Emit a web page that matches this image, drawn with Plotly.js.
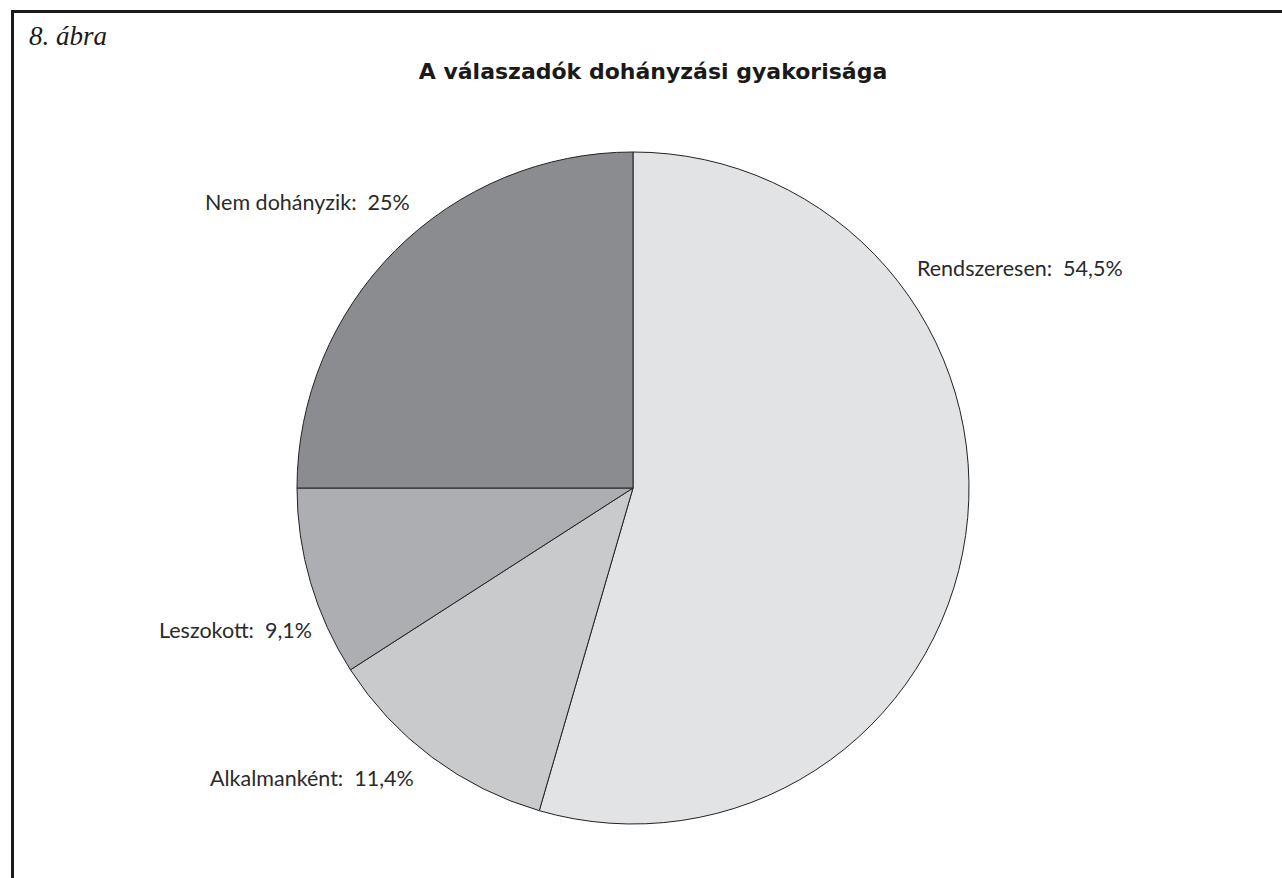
<!DOCTYPE html>
<html>
<head>
<meta charset="utf-8">
<script src="https://cdn.plot.ly/plotly-3.0.1.min.js"></script>
<style>
  html, body { margin: 0; padding: 0; background: #ffffff; }
  #chart { width: 1282px; height: 878px; }
</style>
</head>
<body>
<div id="chart"></div>
<script>
// Data
const categories = ["Rendszeresen", "Alkalmanként", "Leszokott", "Nem dohányzik"];
const values = [54.5, 11.4, 9.1, 25];
const sliceColors = ["#e2e3e5", "#c9cacc", "#adaeb1", "#8b8c8f"];

// Label placement (paper coordinates, as in the reference)
const labelX = [1020 / 1282, 312 / 1282, 235 / 1282, 307 / 1282];
const labelY = [1 - 268 / 878, 1 - 778 / 878, 1 - 630 / 878, 1 - 202 / 878];

const W = 1282, H = 878;
const cx = 633, cy = 488, R = 336;

function fmt(v) { return String(v).replace('.', ',') + '%'; }

const labelFont = { family: "Lato, 'Open Sans', sans-serif", size: 21.5, color: "#2a2a2a" };

const annotations = categories.map((c, i) => ({
  text: c + ':\u00a0 ' + fmt(values[i]),
  x: labelX[i], y: labelY[i], xref: 'paper', yref: 'paper',
  xanchor: 'center', yanchor: 'middle', showarrow: false,
  font: labelFont
}));

annotations.push({
  text: '<i>8. ábra</i>',
  x: 27 / W, y: 1 - 36 / H, xref: 'paper', yref: 'paper',
  xanchor: 'left', yanchor: 'middle', showarrow: false,
  font: { family: "'Liberation Serif', 'Times New Roman', serif", size: 27, color: "#1a1a1a" }
});

const trace = {
  type: 'pie',
  labels: categories,
  values: values,
  sort: false,
  direction: 'clockwise',
  rotation: 0,
  textinfo: 'none',
  hoverinfo: 'label+percent',
  marker: { colors: sliceColors, line: { color: '#222222', width: 1 } },
  domain: { x: [(cx - R) / W, (cx + R) / W], y: [1 - (cy + R) / H, 1 - (cy - R) / H] },
  showlegend: false
};

const layout = {
  width: W, height: H,
  margin: { l: 0, r: 0, t: 0, b: 0 },
  paper_bgcolor: '#ffffff',
  showlegend: false,
  title: {
    text: '<b>A válaszadók dohányzási gyakorisága</b>',
    x: 653 / W, xanchor: 'center',
    y: 1 - 71 / H, yanchor: 'middle',
    font: { family: "'DejaVu Sans', sans-serif", size: 22, color: "#1a1a1a" }
  },
  annotations: annotations,
  shapes: [
    { type: 'line', xref: 'paper', yref: 'paper', x0: 11 / W, x1: 1, y0: 1 - 11.5 / H, y1: 1 - 11.5 / H, line: { color: '#1a1a1a', width: 3 } },
    { type: 'line', xref: 'paper', yref: 'paper', x0: 12.5 / W, x1: 12.5 / W, y0: 1 - 10 / H, y1: 0, line: { color: '#1a1a1a', width: 3 } }
  ]
};

Plotly.newPlot('chart', [trace], layout, { displayModeBar: false, staticPlot: true });
</script>
</body>
</html>
